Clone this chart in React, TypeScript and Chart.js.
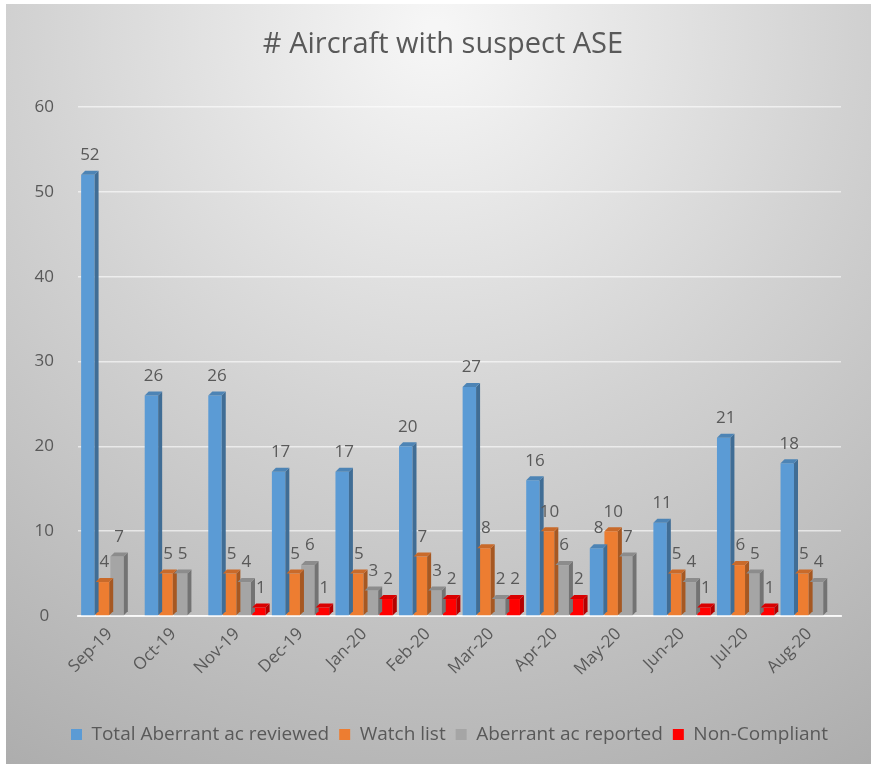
import React, { useEffect, useRef } from "react";
import { Chart, registerables } from "chart.js";

Chart.register(...registerables);

const categories = ["Sep-19", "Oct-19", "Nov-19", "Dec-19", "Jan-20", "Feb-20", "Mar-20", "Apr-20", "May-20", "Jun-20", "Jul-20", "Aug-20"];
const totalReviewed = [52, 26, 26, 17, 17, 20, 27, 16, 8, 11, 21, 18];
const watchList = [4, 5, 5, 5, 5, 7, 8, 10, 10, 5, 6, 5];
const aberrantReported = [7, 5, 4, 6, 3, 3, 2, 6, 7, 4, 5, 4];
const nonCompliant = [null, null, 1, 1, 2, 2, 2, 2, null, 1, 1, null];
const yTicks = [0, 10, 20, 30, 40, 50, 60];
const titleText = "# Aircraft with suspect ASE";

const FONT = "'Open Sans', 'Liberation Sans', sans-serif";
const TEXT = "#595959";

function shade(hex: string, f: number) {
  const n = parseInt(hex.slice(1), 16);
  const r = Math.round(((n >> 16) & 255) * f);
  const g = Math.round(((n >> 8) & 255) * f);
  const b = Math.round((n & 255) * f);
  return `rgb(${Math.min(255, r)},${Math.min(255, g)},${Math.min(255, b)})`;
}

const bgPlugin = {
  id: "bg",
  afterLayout(chart: any) {
    if (chart.legend) {
      chart.legend.left += 25;
      chart.legend.right += 25;
    }
  },
  beforeDraw(chart: any) {
    const { ctx, width, height } = chart;
    ctx.save();
    ctx.fillStyle = "#ffffff";
    ctx.fillRect(0, 0, width, height);
    const g = ctx.createRadialGradient(width * 0.5, 30, 10, width * 0.5, 30, 900);
    g.addColorStop(0, "#f6f6f6");
    g.addColorStop(0.45, "#d2d2d2");
    g.addColorStop(1, "#a9a9a9");
    ctx.fillStyle = g;
    ctx.fillRect(6, 4, width - 6, height - 4);
    ctx.fillStyle = TEXT;
    ctx.font = `29px ${FONT}`;
    ctx.textAlign = "center";
    ctx.textBaseline = "middle";
    ctx.fillText(titleText, 443, 45);
    ctx.restore();
  },
};

const bar3dPlugin = {
  id: "bar3d",
  afterDatasetsDraw(chart: any) {
    const { ctx } = chart;
    const d = 4;
    chart.data.datasets.forEach((ds: any, i: number) => {
      const meta = chart.getDatasetMeta(i);
      const base = ds.backgroundColor as string;
      meta.data.forEach((el: any, j: number) => {
        const v = ds.data[j];
        if (v === null || v === undefined) return;
        const { x, y, base: b, width: w } = el.getProps(["x", "y", "base", "width"], true);
        const l = x - w / 2;
        const r = x + w / 2;
        ctx.save();
        ctx.fillStyle = shade(base, 0.7);
        ctx.beginPath();
        ctx.moveTo(r, y);
        ctx.lineTo(r + d, y - d);
        ctx.lineTo(r + d, b - d);
        ctx.lineTo(r, b);
        ctx.closePath();
        ctx.fill();
        ctx.fillStyle = shade(base, 0.85);
        ctx.beginPath();
        ctx.moveTo(l, y);
        ctx.lineTo(l + d, y - d);
        ctx.lineTo(r + d, y - d);
        ctx.lineTo(r, y);
        ctx.closePath();
        ctx.fill();
        ctx.restore();
      });
    });
  },
};

const labelPlugin = {
  id: "valueLabels",
  afterDatasetsDraw(chart: any) {
    const { ctx } = chart;
    ctx.save();
    ctx.fillStyle = TEXT;
    ctx.font = `17px ${FONT}`;
    ctx.textAlign = "center";
    ctx.textBaseline = "bottom";
    chart.data.datasets.forEach((ds: any, i: number) => {
      const meta = chart.getDatasetMeta(i);
      meta.data.forEach((el: any, j: number) => {
        const v = ds.data[j];
        if (v === null || v === undefined) return;
        ctx.fillText(String(v), el.x + 2, el.y - 11);
      });
    });
    ctx.restore();
  },
};

export default function App() {
  const ref = useRef<HTMLCanvasElement | null>(null);
  useEffect(() => {
    if (!ref.current) return;
    const mk = (label: string, data: any[], color: string) => ({
      label,
      data,
      backgroundColor: color,
      borderWidth: 0,
      barPercentage: 0.92,
      categoryPercentage: 0.92,
    });
    const chart = new Chart(ref.current, {
      type: "bar",
      data: {
        labels: categories,
        datasets: [
          mk("Total Aberrant ac reviewed", totalReviewed, "#5B9BD5"),
          mk("Watch list", watchList, "#ED7D31"),
          mk("Aberrant ac reported", aberrantReported, "#A5A5A5"),
          mk("Non-Compliant", nonCompliant, "#FF0000"),
        ],
      },
      options: {
        animation: false,
        responsive: false,
        maintainAspectRatio: false,
        layout: { padding: { left: 8, right: 30, top: 107, bottom: 10 } },
        plugins: {
          title: { display: false },
          legend: {
            position: "bottom",
            labels: {
              color: TEXT,
              font: { family: FONT, size: 19 },
              boxWidth: 11,
              boxHeight: 11,
              padding: 10,
            },
          },
          tooltip: { enabled: false },
        },
        scales: {
          x: {
            afterFit: (s: any) => {
              s.height = 99;
            },
            grid: { display: false, drawTicks: false },
            border: { display: true, color: "rgba(255,255,255,0.8)", width: 2 },
            ticks: {
              color: TEXT,
              font: { family: FONT, size: 17 },
              maxRotation: 45,
              minRotation: 45,
              padding: 8,
            },
          },
          y: {
            min: 0,
            max: 60,
            afterBuildTicks: (s: any) => {
              s.ticks = yTicks.map((v) => ({ value: v }));
            },
            afterFit: (s: any) => {
              s.width = 70;
            },
            grid: { color: "rgba(255,255,255,0.6)", lineWidth: 1.5, drawTicks: false },
            border: { display: false },
            ticks: {
              color: TEXT,
              font: { family: FONT, size: 17 },
              crossAlign: "center",
              padding: 24,
            },
          },
        },
      },
      plugins: [bgPlugin, bar3dPlugin, labelPlugin],
    });
    return () => chart.destroy();
  }, []);
  return (
    <div style={{ position: "fixed", left: 0, top: 0, width: 871, height: 764 }}>
      <canvas ref={ref} width={871} height={764} style={{ display: "block" }} />
    </div>
  );
}
